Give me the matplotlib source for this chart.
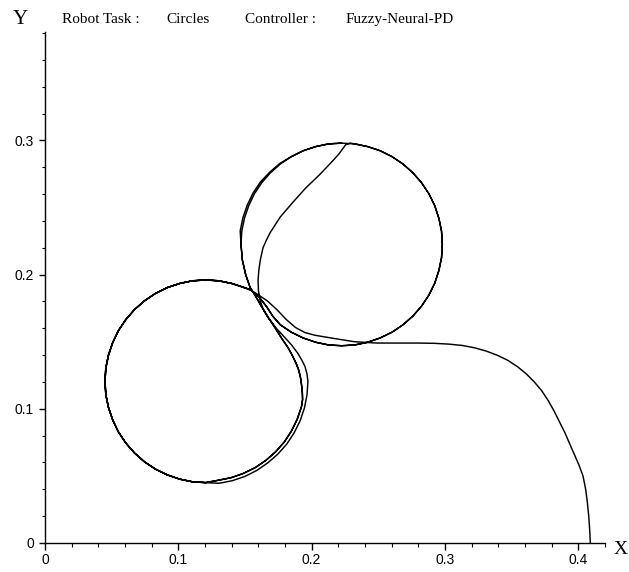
import numpy as np
import matplotlib.pyplot as plt
from matplotlib.ticker import MultipleLocator

# ---------------------------------------------------------------------------
# Trajectory of the robot end point, traced segment by segment (x, y in m)
# ---------------------------------------------------------------------------
# start-up transient: from (0.41, 0) up and left onto the lower circle
transient = [(0.4090, 0.000), (0.4085, 0.010), (0.4078, 0.020), (0.4068, 0.030),
             (0.4055, 0.040), (0.4035, 0.050), (0.4005, 0.058), (0.3970, 0.066),
             (0.3935, 0.074), (0.3900, 0.082), (0.3860, 0.090), (0.3820, 0.098),
             (0.3775, 0.106), (0.3725, 0.1135), (0.3670, 0.1200), (0.3610, 0.1260),
             (0.3545, 0.1313), (0.3470, 0.1362), (0.3390, 0.1400), (0.3310, 0.1430),
             (0.3220, 0.1455), (0.3130, 0.1472), (0.3030, 0.1482), (0.2920, 0.1488),
             (0.2800, 0.1490), (0.2650, 0.1490), (0.2490, 0.1490), (0.2320, 0.1500),
             (0.2175, 0.1523), (0.2025, 0.1548), (0.1950, 0.1568), (0.1880, 0.1605),
             (0.1810, 0.1665), (0.1740, 0.1738), (0.1670, 0.1802), (0.1600, 0.1850),
             (0.1540, 0.1885), (0.1463, 0.1914)]

# lower circle, top -> left -> bottom (counter-clockwise)
lower_arc = [(0.1400, 0.1934), (0.1304, 0.1954), (0.1205, 0.1960), (0.1106, 0.1954),
             (0.1010, 0.1934), (0.0916, 0.1903), (0.0827, 0.1859), (0.0745, 0.1804),
             (0.0671, 0.1739), (0.0606, 0.1665), (0.0551, 0.1583), (0.0508, 0.1494),
             (0.0476, 0.1400), (0.0456, 0.1304), (0.0450, 0.1205), (0.0456, 0.1106),
             (0.0476, 0.1010), (0.0508, 0.0916), (0.0551, 0.0827), (0.0606, 0.0745),
             (0.0671, 0.0671), (0.0745, 0.0606), (0.0827, 0.0551), (0.0916, 0.0508),
             (0.1010, 0.0476), (0.1106, 0.0456), (0.1205, 0.0450)]

# lower circle, bottom -> right side (first pass, outer line)
lower_right_1 = [(0.1305, 0.0445), (0.1404, 0.0464), (0.1499, 0.0496), (0.1589, 0.0541),
                 (0.1672, 0.0598), (0.1747, 0.0663), (0.1814, 0.0738), (0.1869, 0.0822),
                 (0.1914, 0.0912), (0.1946, 0.1007), (0.1965, 0.1105), (0.1972, 0.1205)]

# first switch: cut across to the top of the upper circle
chord = [(0.1965, 0.1260), (0.1950, 0.1315), (0.1925, 0.1365), (0.1895, 0.1415),
         (0.1850, 0.1475), (0.1800, 0.1530), (0.1735, 0.1600), (0.1673, 0.1680),
         (0.1635, 0.1745), (0.1613, 0.1808), (0.1601, 0.1880), (0.1598, 0.1958),
         (0.1604, 0.2035), (0.1615, 0.2110), (0.1635, 0.2200), (0.1662, 0.2260),
         (0.1690, 0.2315), (0.1765, 0.2430), (0.1860, 0.2540), (0.1955, 0.2645),
         (0.2060, 0.2745), (0.2160, 0.2850), (0.2205, 0.2900), (0.2235, 0.2940),
         (0.2255, 0.2968), (0.2290, 0.2980)]

# upper circle, top -> right -> bottom (clockwise)
upper_arc = [(0.2324, 0.2974), (0.2420, 0.2954), (0.2514, 0.2923), (0.2603, 0.2879),
             (0.2685, 0.2824), (0.2759, 0.2759), (0.2824, 0.2685), (0.2879, 0.2603),
             (0.2923, 0.2514), (0.2954, 0.2420), (0.2974, 0.2324), (0.2980, 0.2225),
             (0.2974, 0.2126), (0.2954, 0.2030), (0.2923, 0.1936), (0.2879, 0.1847),
             (0.2824, 0.1765), (0.2759, 0.1691), (0.2685, 0.1626), (0.2603, 0.1571),
             (0.2514, 0.1528), (0.2420, 0.1496), (0.2324, 0.1476), (0.2225, 0.1470)]

# upper circle bottom -> crossing -> lower circle top
cross_down = [(0.2126, 0.1476), (0.2030, 0.1496), (0.1936, 0.1528), (0.1847, 0.1571),
              (0.1765, 0.1626), (0.1710, 0.1688), (0.1665, 0.1757), (0.1610, 0.1828),
              (0.1540, 0.1888), (0.1463, 0.1914)]

# lower circle, bottom -> right side (later passes, inner line)
lower_right_2 = [(0.1302, 0.0468), (0.1397, 0.0487), (0.1489, 0.0519), (0.1577, 0.0562),
                 (0.1657, 0.0616), (0.1730, 0.0680), (0.1795, 0.0753), (0.1848, 0.0834),
                 (0.1891, 0.0921), (0.1923, 0.1013)]

# lower circle right side -> crossing -> upper circle left side
cross_up = [(0.1932, 0.1070), (0.1930, 0.1120), (0.1924, 0.1180), (0.1915, 0.1240),
            (0.1902, 0.1290), (0.1885, 0.1335), (0.1855, 0.1397), (0.1823, 0.1455),
            (0.1772, 0.1530), (0.1725, 0.1605), (0.1675, 0.1680), (0.1628, 0.1755),
            (0.1585, 0.1830), (0.1538, 0.1905), (0.1505, 0.2000), (0.1480, 0.2110),
            (0.1470, 0.2225)]

# upper circle, left side -> top (two passes, slightly apart)
upper_left_1 = [(0.1476, 0.2324), (0.1496, 0.2420), (0.1528, 0.2514), (0.1571, 0.2603),
                (0.1626, 0.2685), (0.1691, 0.2759), (0.1765, 0.2824), (0.1847, 0.2879),
                (0.1936, 0.2923), (0.2030, 0.2954), (0.2126, 0.2974), (0.2225, 0.2980)]
upper_left_2 = [(0.1464, 0.2326), (0.1484, 0.2423), (0.1517, 0.2519), (0.1561, 0.2609),
                (0.1617, 0.2692), (0.1685, 0.2763), (0.1762, 0.2829), (0.1847, 0.2879),
                (0.1936, 0.2923), (0.2030, 0.2954), (0.2126, 0.2974), (0.2225, 0.2980)]

path = (transient + lower_arc + lower_right_1 + chord + upper_arc + cross_down
        + lower_arc + lower_right_2 + cross_up + upper_left_1 + upper_arc
        + cross_down + lower_arc + lower_right_2 + cross_up + upper_left_2)
path = np.array(path)

x_ticks = [0, 0.1, 0.2, 0.3, 0.4]
x_labels = ['0', '0.1', '0.2', '0.3', '0.4']
y_ticks = [0, 0.1, 0.2, 0.3]
y_labels = ['0', '0.1', '0.2', '0.3']

# ---------------------------------------------------------------------------
# Figure
# ---------------------------------------------------------------------------
W, H = 629, 572
fig = plt.figure(figsize=(W / 100, H / 100), dpi=100)
ax = fig.add_axes([45 / W, 29 / H, 560 / W, 511 / H])

ax.plot(path[:, 0], path[:, 1], color='black', lw=1.05,
        solid_joinstyle='round', solid_capstyle='round')

ax.set_xlim(0, 0.42)
ax.set_ylim(0, 0.3808)

for s in ['top', 'right']:
    ax.spines[s].set_visible(False)
for s in ['left', 'bottom']:
    ax.spines[s].set_linewidth(1.0)

ax.set_xticks(x_ticks)
ax.set_xticklabels(x_labels)
ax.set_yticks(y_ticks)
ax.set_yticklabels(y_labels)
ax.xaxis.set_minor_locator(MultipleLocator(0.02))
ax.yaxis.set_minor_locator(MultipleLocator(0.02))

ax.tick_params(axis='x', which='major', direction='out', length=5, width=1,
               pad=2, labelsize=10)
ax.tick_params(axis='x', which='minor', direction='out', length=3, width=0.8)
ax.tick_params(axis='y', which='major', direction='out', length=4, width=1,
               pad=4, labelsize=10)
ax.tick_params(axis='y', which='minor', direction='out', length=2, width=0.8)
for lab in ax.get_xticklabels() + ax.get_yticklabels():
    lab.set_family('Liberation Sans')

# heading, split in its four pieces
serif = 'Liberation Serif'
for txt, px in [('Robot Task :', 62), ('Circles', 166),
                ('Controller :', 245), ('Fuzzy-Neural-PD', 346)]:
    fig.text(px / W, 1 - 23 / H, txt, family=serif, fontsize=11,
             ha='left', va='baseline')

# axis names
fig.text(20 / W, 1 - 20 / H, 'Y', family=serif, fontsize=15,
         ha='center', va='center')
fig.text(621 / W, 1 - 549 / H, 'X', family=serif, fontsize=14,
         ha='center', va='center')

fig.savefig('out.png', dpi=100)
